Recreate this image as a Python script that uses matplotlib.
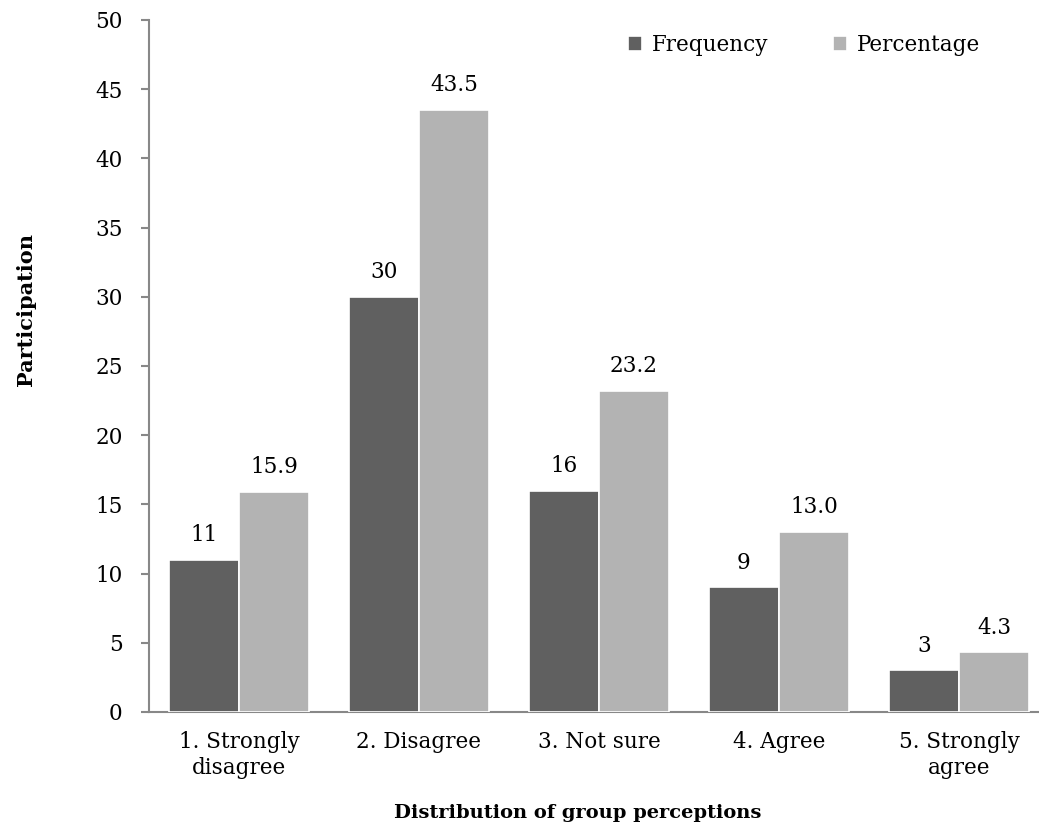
import matplotlib
matplotlib.use("Agg")
import matplotlib.pyplot as plt
import numpy as np

categories = ["1. Strongly\ndisagree", "2. Disagree", "3. Not sure", "4. Agree", "5. Strongly\nagree"]
frequency = [11, 30, 16, 9, 3]
percentage = [15.9, 43.5, 23.2, 13.0, 4.3]
freq_labels = ["11", "30", "16", "9", "3"]
pct_labels = ["15.9", "43.5", "23.2", "13.0", "4.3"]
yticks = [0, 5, 10, 15, 20, 25, 30, 35, 40, 45, 50]

plt.rcParams['font.family'] = ['DejaVu Serif']
FS = 15.5
W, H = 1039, 833
fig = plt.figure(figsize=(W/100, H/100), dpi=100)
ax = fig.add_axes([149/W, 1-712/H, 900/W, 692/H])

x = np.arange(len(categories))
bw = 70/180
dark = "#606060"
light = "#b3b3b3"
b1 = ax.bar(x - bw/2, frequency, bw, color=dark, edgecolor="white", linewidth=1.2, label="Frequency", zorder=3)
b2 = ax.bar(x + bw/2, percentage, bw, color=light, edgecolor="white", linewidth=1.2, label="Percentage", zorder=3)

for rects, labs in ((b1, freq_labels), (b2, pct_labels)):
    for r, t in zip(rects, labs):
        ax.annotate(t, (r.get_x() + r.get_width()/2, r.get_height()),
                    xytext=(0, 13.5), textcoords="offset points",
                    ha="center", va="baseline", fontsize=FS)

ax.set_xlim(-0.5, len(categories) - 0.5)
ax.set_ylim(0, 50)
ax.set_yticks(yticks)
ax.set_xticks(x)
ax.set_xticklabels(categories, fontsize=FS, linespacing=1.2)
ax.tick_params(axis='y', labelsize=FS, length=6, color="#888888", width=1.5, pad=13)
ax.tick_params(axis='x', length=0, pad=14)
for s in ("top", "right"):
    ax.spines[s].set_visible(False)
for s in ("left", "bottom"):
    ax.spines[s].set_color("#888888")
    ax.spines[s].set_linewidth(1.5)

leg = fig.legend(handles=[b1, b2], loc="center left", bbox_to_anchor=(628/W, 1-45/H),
                 ncol=2, frameon=False, fontsize=FS, handlelength=0.65, handleheight=0.65,
                 handletextpad=0.47, columnspacing=3.0, borderpad=0, borderaxespad=0)

fig.text(26/W, 1-309/H, "Participation", rotation=90, ha="center", va="center",
         fontsize=15, fontweight="bold")
fig.text(578/W, 1-813/H, "Distribution of group perceptions", ha="center", va="center",
         fontsize=14, fontweight="bold")

fig.savefig("out.png", dpi=100)
